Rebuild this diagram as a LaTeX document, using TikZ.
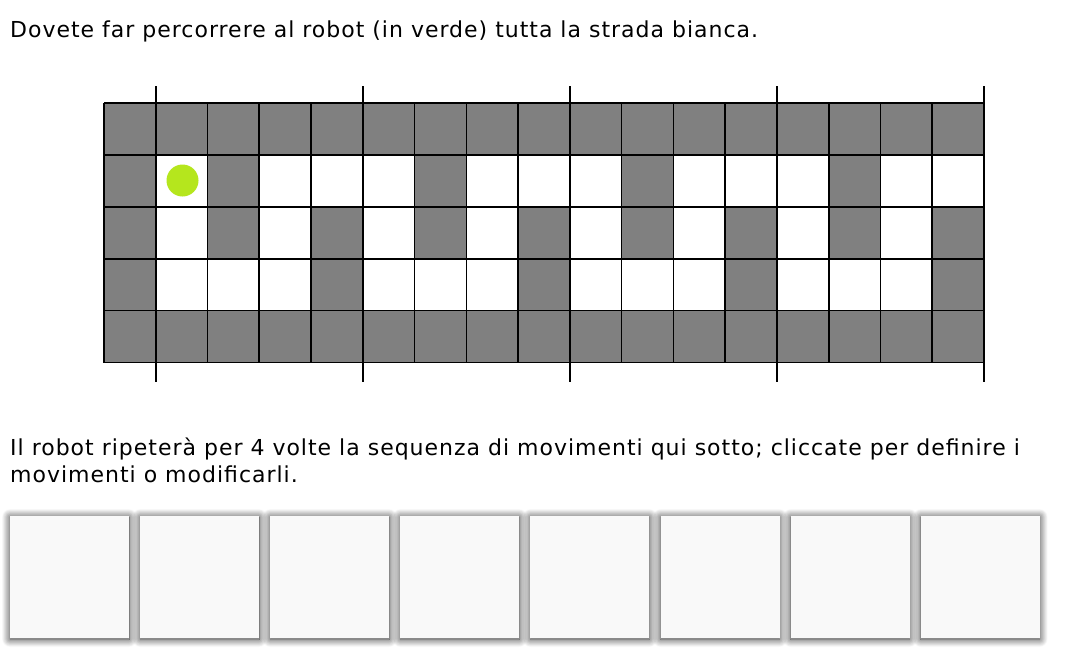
\documentclass[tikz,border=0pt]{standalone}
\usepackage{fontspec}
\setmainfont{DejaVu Sans}[LetterSpace=4.5]
\usetikzlibrary{shadows.blur}

\definecolor{muro}{RGB}{128,128,128}
\definecolor{robotverde}{RGB}{181,230,29}
\definecolor{caselladi}{RGB}{249,249,249}

\begin{document}
\begin{tikzpicture}[x=1pt,y=-1pt,
		testo/.style={anchor=base west,inner sep=0pt,font=\fontsize{22}{26}\selectfont},
		linea/.style={draw=black,line width=1.6pt},
		robot/.style={circle,fill=robotverde,minimum size=32pt,inner sep=0pt},
		mossa/.style={fill=caselladi,minimum width=119pt,minimum height=122pt,inner sep=0pt,
			blur shadow={shadow xshift=0pt,shadow yshift=-1pt,shadow blur radius=8pt,
				shadow blur steps=12,shadow opacity=85}}]
	\useasboundingbox (0,0) rectangle (1070,670);
	\node[testo] (titolo) at (10,37) {Dovete far percorrere al robot (in verde) tutta la strada bianca.};
	% strada
	\fill[muro] (104,103) rectangle (984,362.5);
	\foreach \r/\cols in {1/{1,3,4,5,7,8,9,11,12,13,15,16},2/{1,3,5,7,9,11,13,15},3/{1,2,3,5,6,7,9,10,11,13,14,15}}{
		\foreach \c in \cols
			\fill[white] (104+\c*51.765,103+\r*51.9) rectangle ++(51.765,51.9);
	}
	\foreach \c in {0,...,17}
		\draw[linea] (104+\c*51.765,103) -- (104+\c*51.765,362.5);
	\foreach \r in {0,...,5}
		\draw[linea] (104,103+\r*51.9) -- (984,103+\r*51.9);
	\foreach \c in {1,5,9,13,17}
		\draw[linea] (104+\c*51.765,86) -- (104+\c*51.765,382);
	\node[robot] (robot) at (182.5,180.5) {};
	% istruzioni
	\node[testo] (istr1) at (10,455) {Il robot ripeterà per 4 volte la sequenza di movimenti qui sotto; cliccate per definire i};
	\node[testo] (istr2) at (10,482) {movimenti o modificarli.};
	\foreach \i in {1,...,8}
		\node[mossa] (mossa\i) at (69.5+\i*130.1-130.1,577) {};
\end{tikzpicture}
\end{document}
